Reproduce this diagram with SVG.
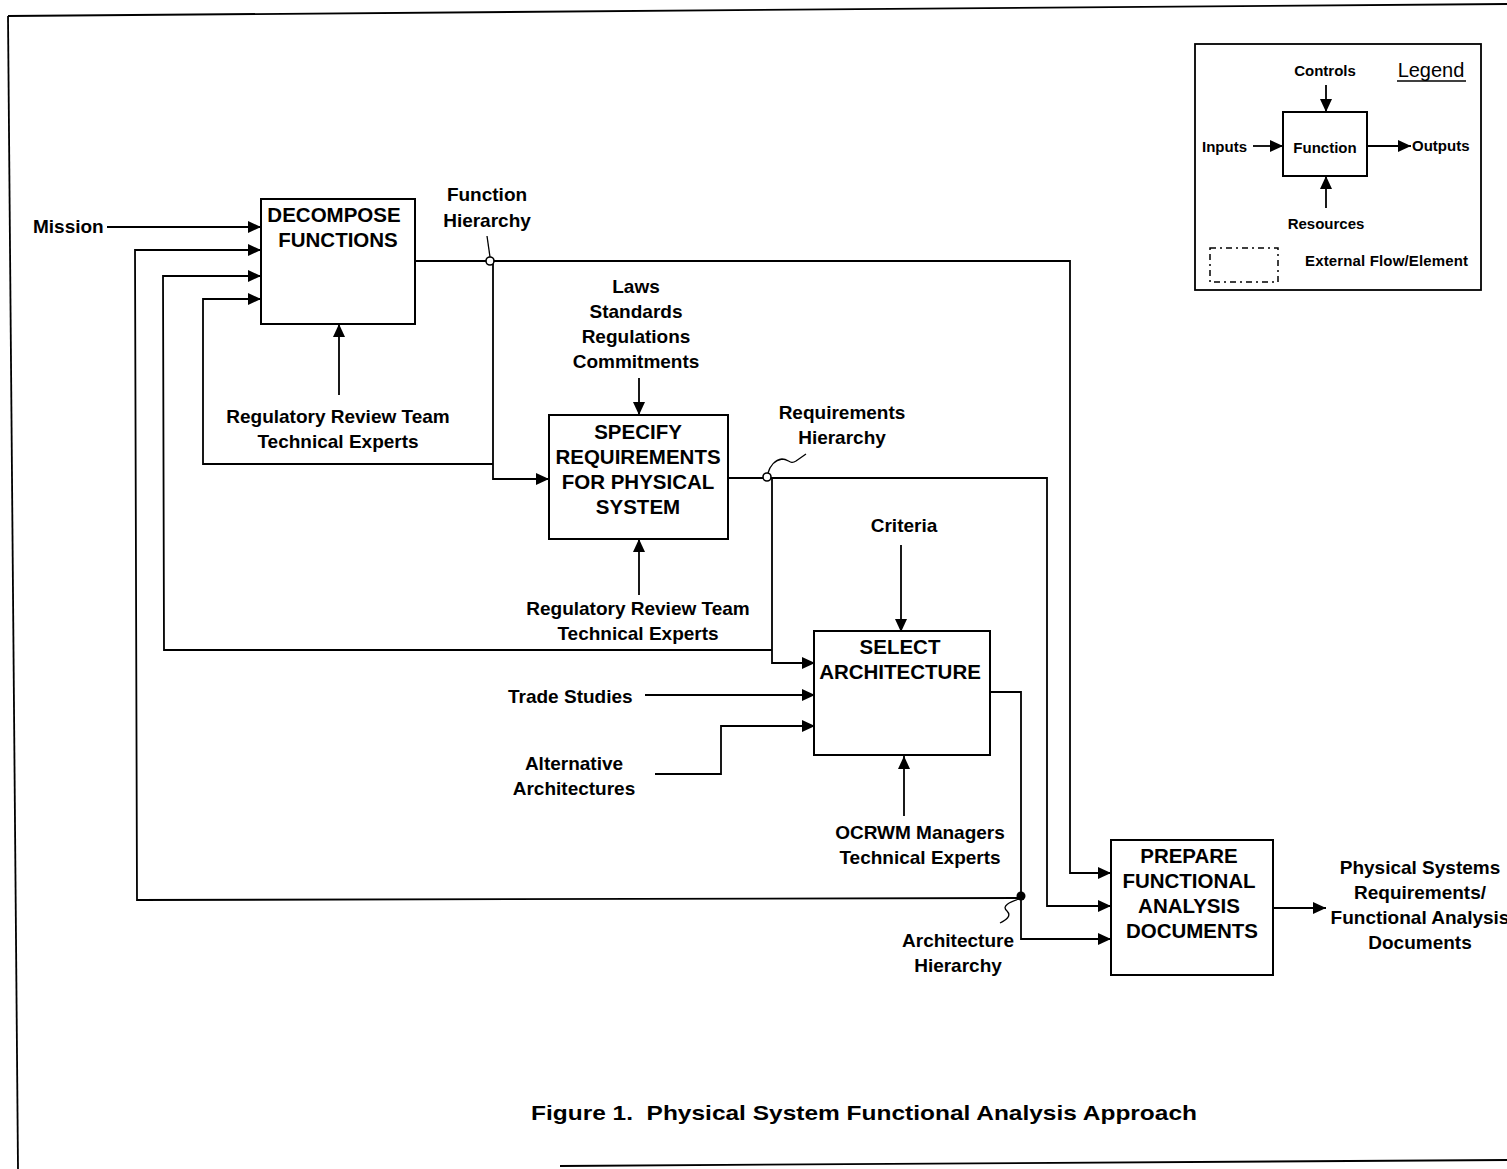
<svg xmlns="http://www.w3.org/2000/svg" width="1507" height="1169" viewBox="0 0 1507 1169">
<style>
text{font-family:"Liberation Sans",Arial,Helvetica,sans-serif;font-weight:bold;fill:#000}
.lbl{font-size:19px;text-anchor:middle}
.lbll{font-size:19px}
.box{fill:#fff;stroke:#000;stroke-width:2}
.bt{font-size:20.5px;text-anchor:middle}
.lg{font-size:15px}
.c{fill:none;stroke:#000;stroke-width:1.8}
.arr{marker-end:url(#ah)}
</style>
<defs>
<marker id="ah" markerUnits="userSpaceOnUse" markerWidth="14" markerHeight="12" refX="13" refY="6" orient="auto">
<polygon points="0,0 13,6 0,12" fill="#000"/>
</marker>
</defs>
<rect width="1507" height="1169" fill="#fff"/>
<g id="frame" fill="none" stroke="#000" stroke-width="1.8">
<line x1="8" y1="16" x2="1507" y2="4"/>
<line x1="8" y1="16" x2="18" y2="1169"/>
<line x1="560" y1="1166" x2="1507" y2="1160"/>
</g>
<g id="legend">
<rect x="1195" y="44" width="286" height="246" fill="none" stroke="#000" stroke-width="1.8"/>
<rect x="1283" y="112" width="84" height="64" class="box"/>
<text x="1325" y="153" class="lg" text-anchor="middle">Function</text>
<text x="1325" y="76" class="lg" text-anchor="middle">Controls</text>
<text x="1431" y="77" style="font-size:20px;font-weight:normal" text-anchor="middle">Legend</text>
<line x1="1397" y1="81" x2="1466" y2="81" stroke="#000" stroke-width="1.5"/>
<text x="1202" y="152" class="lg">Inputs</text>
<text x="1412" y="151" class="lg">Outputs</text>
<text x="1326" y="229" class="lg" text-anchor="middle">Resources</text>
<line x1="1326" y1="85" x2="1326" y2="112" class="c arr"/>
<line x1="1253" y1="146" x2="1283" y2="146" class="c arr"/>
<line x1="1367" y1="146" x2="1411" y2="146" class="c arr"/>
<line x1="1326" y1="208" x2="1326" y2="176" class="c arr"/>
<rect x="1210" y="248" width="68" height="34" fill="none" stroke="#000" stroke-width="1.5" stroke-dasharray="6,4,2,4"/>
<text x="1305" y="266" class="lg" textLength="163">External Flow/Element</text>
</g>
<g id="connectors">
<line x1="107" y1="227" x2="261" y2="227" class="c arr"/>
<polyline points="1021,898 137,900 135,250 261,250" class="c arr"/>
<polyline points="772,650 164,650 163,276 261,276" class="c arr"/>
<polyline points="493,464 203,464 203,299 261,299" class="c arr"/>
<polyline points="415,261 1070,261 1070,873 1111,873" class="c arr"/>
<polyline points="490,261 493,261 493,479 549,479" class="c arr"/>
<line x1="339" y1="395" x2="339" y2="324" class="c arr"/>
<line x1="639" y1="378" x2="639" y2="415" class="c arr"/>
<line x1="639" y1="595" x2="639" y2="539" class="c arr"/>
<polyline points="728,478 1047,478 1047,906 1111,906" class="c arr"/>
<polyline points="767,478 772,478 772,663 815,663" class="c arr"/>
<line x1="901" y1="545" x2="901" y2="632" class="c arr"/>
<line x1="645" y1="695" x2="815" y2="695" class="c arr"/>
<polyline points="655,774 721,774 721,726 815,726" class="c arr"/>
<line x1="904" y1="816" x2="904" y2="756" class="c arr"/>
<polyline points="991,692 1021,692 1021,939 1111,939" class="c arr"/>
<line x1="1273" y1="908" x2="1326" y2="908" class="c arr"/>
<circle cx="490" cy="261" r="4" fill="#fff" stroke="#000" stroke-width="1.6"/>
<circle cx="767" cy="477" r="4" fill="#fff" stroke="#000" stroke-width="1.6"/>
<circle cx="1021" cy="896" r="4.5" fill="#000"/>
<line x1="487" y1="236" x2="490" y2="257" stroke="#000" stroke-width="1.3"/>
<path d="M768,473 C770,466 775,460 782,459 C789,459 790,465 796,461 L806,454" fill="none" stroke="#000" stroke-width="1.3"/>
<path d="M1019,899 C1010,902 1001,906 1007,911 C1012,916 1006,920 1000,923" fill="none" stroke="#000" stroke-width="1.3"/>
</g>
<g id="decompose">
<rect x="261" y="199" width="154" height="125" class="box"/>
<text x="334" y="222" class="bt">DECOMPOSE</text>
<text x="338" y="247" class="bt">FUNCTIONS</text>
</g>
<g id="specify">
<rect x="549" y="415" width="179" height="124" class="box"/>
<text x="638" y="439" class="bt">SPECIFY</text>
<text x="638" y="464" class="bt">REQUIREMENTS</text>
<text x="638" y="489" class="bt">FOR PHYSICAL</text>
<text x="638" y="514" class="bt">SYSTEM</text>
</g>
<g id="select">
<rect x="814" y="631" width="176" height="124" class="box"/>
<text x="900" y="654" class="bt">SELECT</text>
<text x="900" y="679" class="bt">ARCHITECTURE</text>
</g>
<g id="prepare">
<rect x="1111" y="840" width="162" height="135" class="box"/>
<text x="1189" y="863" class="bt">PREPARE</text>
<text x="1189" y="888" class="bt">FUNCTIONAL</text>
<text x="1189" y="913" class="bt">ANALYSIS</text>
<text x="1192" y="938" class="bt">DOCUMENTS</text>
</g>
<g id="labels">
<text x="33" y="233" class="lbll">Mission</text>
<text x="487" y="201" class="lbl">Function</text>
<text x="487" y="227" class="lbl">Hierarchy</text>
<text x="338" y="423" class="lbl">Regulatory Review Team</text>
<text x="338" y="448" class="lbl">Technical Experts</text>
<text x="636" y="293" class="lbl">Laws</text>
<text x="636" y="318" class="lbl">Standards</text>
<text x="636" y="343" class="lbl">Regulations</text>
<text x="636" y="368" class="lbl">Commitments</text>
<text x="842" y="419" class="lbl">Requirements</text>
<text x="842" y="444" class="lbl">Hierarchy</text>
<text x="638" y="615" class="lbl">Regulatory Review Team</text>
<text x="638" y="640" class="lbl">Technical Experts</text>
<text x="904" y="532" class="lbl">Criteria</text>
<text x="508" y="703" class="lbll">Trade Studies</text>
<text x="574" y="770" class="lbl">Alternative</text>
<text x="574" y="795" class="lbl">Architectures</text>
<text x="920" y="839" class="lbl">OCRWM Managers</text>
<text x="920" y="864" class="lbl">Technical Experts</text>
<text x="958" y="947" class="lbl">Architecture</text>
<text x="958" y="972" class="lbl">Hierarchy</text>
<text x="1420" y="874" class="lbl">Physical Systems</text>
<text x="1420" y="899" class="lbl">Requirements/</text>
<text x="1420" y="924" class="lbl">Functional Analysis</text>
<text x="1420" y="949" class="lbl">Documents</text>
<text x="531" y="1120" style="font-size:21px;white-space:pre" textLength="666" lengthAdjust="spacingAndGlyphs">Figure 1.  Physical System Functional Analysis Approach</text>
</g>
</svg>
